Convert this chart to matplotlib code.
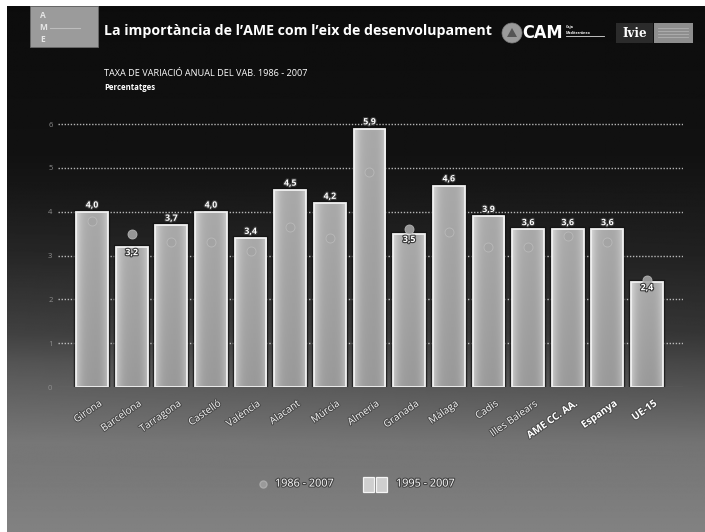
import numpy as np
import matplotlib
matplotlib.use("Agg")
import matplotlib.pyplot as plt
import matplotlib.patheffects as pe
import matplotlib.transforms as mtransforms
from matplotlib.patches import Rectangle, Circle, Polygon

plt.rcParams['font.family'] = ['Open Sans', 'DejaVu Sans']

# ---------------- data ----------------
categories = ["Girona", "Barcelona", "Tarragona", "Castelló", "València", "Alacant",
              "Múrcia", "Almeria", "Granada", "Màlaga", "Cadis", "Illes Balears",
              "AME CC. AA.", "Espanya", "UE-15"]
bold_categories = ["AME CC. AA.", "Espanya", "UE-15"]
bars_1995_2007 = [4.0, 3.2, 3.7, 4.0, 3.4, 4.5, 4.2, 5.9, 3.5, 4.6, 3.9, 3.6, 3.6, 3.6, 2.4]
dots_1986_2007 = [3.8, 3.5, 3.3, 3.3, 3.1, 3.65, 3.4, 4.9, 3.6, 3.55, 3.2, 3.2, 3.45, 3.3, 2.45]
y_ticks = [0, 1, 2, 3, 4, 5, 6]
legend_labels = ["1986 - 2007", "1995 - 2007"]
title = "La importància de l\u2019AME com l\u2019eix de desenvolupament"
subtitle = "TAXA DE VARIACIÓ ANUAL DEL VAB. 1986 - 2007"
unit_label = "Percentatges"

W, H = 705, 532
fig = plt.figure(figsize=(W / 100, H / 100), dpi=100, facecolor="white")

# ---------------- background / overlay axes (pixel coords) ----------------
bg = fig.add_axes([0, 0, 1, 1], zorder=0)
bg.set_xlim(0, W)
bg.set_ylim(H, 0)
bg.axis("off")

rows = np.arange(H)
prof = np.interp(rows, [0, 150, 250, 330, 390, 440, 532],
                 [0.05, 0.07, 0.13, 0.21, 0.34, 0.45, 0.51])
cols = np.linspace(0, 1, W)
img = prof[:, None] + 0.06 * (1 - cols[None, :]) * np.clip((rows[:, None] - 180) / 200, 0, 1) * \
      np.clip((470 - rows[:, None]) / 110, 0, 1)
img = np.clip(img, 0, 1)
bg.imshow(img, cmap="gray", vmin=0, vmax=1, extent=[7, W, H, 6], aspect="auto",
          interpolation="bilinear", zorder=0)
bg.set_xlim(0, W)
bg.set_ylim(H, 0)

# header: AME box
bg.add_patch(Rectangle((30, 6), 68, 41, facecolor="#9b9b9b", edgecolor="#6a6a6a", lw=0.6, zorder=2))
for ch, yy in zip(["A", "M", "E"], [15, 27, 39]):
    bg.text(43, yy, ch, color="#e6e6e6", fontsize=6, fontweight="bold",
            ha="center", va="center", zorder=3)
bg.plot([50, 80], [27.5, 27.5], color="#bdbdbd", lw=0.8, zorder=3)

bg.text(104, 31, title, color="white", fontsize=10.2, fontweight="bold",
        ha="left", va="center", zorder=3)

# CAM logo
bg.add_patch(Circle((512, 33), 10, facecolor="#9a9a9a", edgecolor="#777", lw=0.5, zorder=3))
bg.add_patch(Polygon([[507, 37], [512, 28], [517, 37]], closed=True,
                     facecolor="#555555", edgecolor="none", zorder=4))
bg.text(543, 33, "CAM", color="white", fontsize=13, fontweight="bold",
        family=["Liberation Sans Narrow", "DejaVu Sans"], fontstretch="condensed",
        ha="center", va="center", zorder=3)
bg.text(566, 27, "Caja", color="white", fontsize=2.6, fontweight="bold", ha="left", va="center", zorder=3)
bg.text(566, 32.5, "Mediterráneo", color="white", fontsize=2.6, fontweight="bold", ha="left", va="center", zorder=3)
bg.plot([566, 604], [36, 36], color="#dddddd", lw=0.6, zorder=3)

# Ivie logo
bg.add_patch(Rectangle((616, 23), 37, 20, facecolor="#2b2b2b", edgecolor="none", zorder=3))
bg.add_patch(Rectangle((654, 23), 39, 20, facecolor="#8e8e8e", edgecolor="none", zorder=3))
bg.text(634.5, 33.5, "Ivie", color="white", fontsize=8.5, fontweight="bold",
        family=["DejaVu Serif"], ha="center", va="center", zorder=4)
for yy in [28, 31, 34, 37]:
    bg.plot([658, 688], [yy, yy], color="#b0b0b0", lw=0.6, zorder=4)

bg.text(104, 73, subtitle, color="white", fontsize=6.6, ha="left", va="center", zorder=3)
bg.text(104, 87, unit_label, color="white", fontsize=5.6, fontweight="bold",
        ha="left", va="center", zorder=3)

# ---------------- chart axes ----------------
y0_px, ytop_val = 387, 6.15
px_per_unit = 43.8
ax_bottom = (H - y0_px) / H
ax_height = (ytop_val * px_per_unit) / H
ax = fig.add_axes([58 / W, ax_bottom, 625 / W, ax_height], zorder=2)
ax.set_facecolor("none")
xlim = (-0.858, 14.91)
ylim = (0, ytop_val)

n = len(categories)
x = np.arange(n)
bw = 0.8

for t in y_ticks[1:]:
    ax.axhline(t, color="#d2d2d2", lw=1.0, ls=(0, (1, 1.2)), zorder=1, alpha=0.85)
ax.axhline(0, color="#8c8c8c", lw=0.8, zorder=1)

grad_t = np.linspace(0, 1, 64)
grad = 0.66 + 0.16 * np.abs(2 * grad_t - 1) ** 3 - 0.05 * grad_t
grad = np.tile(grad, (32, 1))
vshade = np.linspace(0.03, -0.03, 32)[:, None]
grad = np.clip(grad + vshade, 0, 1)

for xi, v in zip(x, bars_1995_2007):
    ax.add_patch(Rectangle((xi - bw / 2, 0), bw, v, facecolor="none",
                           edgecolor="#111111", lw=3.2, alpha=0.7, zorder=2))
    rect = Rectangle((xi - bw / 2, 0), bw, v, facecolor="none", edgecolor="none", zorder=3)
    ax.add_patch(rect)
    im = ax.imshow(grad, cmap="gray", vmin=0, vmax=1, aspect="auto",
                   extent=[xi - bw / 2, xi + bw / 2, 0, v], origin="upper",
                   interpolation="bilinear", zorder=3)
    im.set_clip_path(rect)
    ax.add_patch(Rectangle((xi - bw / 2, 0), bw, v, facecolor="none",
                           edgecolor="#f2f2f2", lw=1.3, zorder=4))

ax.plot(x, dots_1986_2007, "o", ms=6.5, color="#a4a4a4", mec="#bcbcbc", mew=0.6,
        alpha=0.9, zorder=5, ls="none")

shadow = [pe.withStroke(linewidth=1.6, foreground="#3a3a3a")]
for xi, v, d in zip(x, bars_1995_2007, dots_1986_2007):
    lab = f"{v:.1f}".replace(".", ",")
    if d > v:
        ax.text(xi, v - 0.03, lab, color="white", fontsize=6.3, fontweight="bold",
                ha="center", va="top", zorder=6, path_effects=shadow)
    else:
        ax.text(xi, v + 0.05, lab, color="white", fontsize=6.3, fontweight="bold",
                ha="center", va="bottom", zorder=6, path_effects=shadow)

ax.set_xlim(*xlim)
ax.set_ylim(*ylim)
ax.set_yticks(y_ticks)
ax.set_yticklabels([str(t) for t in y_ticks])
ax.tick_params(axis="y", length=0, labelsize=5.5, labelcolor="#8e8e8e", pad=4)
ax.set_xticks(x)
ax.set_xticklabels(categories)
ax.tick_params(axis="x", length=0, pad=8)
offset = mtransforms.ScaledTranslation(6 / 100, 0, fig.dpi_scale_trans)
for lab in ax.get_xticklabels():
    lab.set_rotation(35)
    lab.set_rotation_mode("anchor")
    lab.set_ha("right")
    lab.set_va("top")
    lab.set_fontsize(7.2)
    lab.set_color("#f4f4f4")
    lab.set_path_effects([pe.withStroke(linewidth=1.4, foreground="#4a4a4a")])
    if lab.get_text() in bold_categories:
        lab.set_fontweight("bold")
        lab.set_color("white")
    lab.set_transform(lab.get_transform() + offset)
for s in ax.spines.values():
    s.set_visible(False)

# ---------------- legend (manual) ----------------
bg.plot([263], [484], "o", ms=5, color="#9a9a9a", mec="#aaaaaa", zorder=3)
bg.text(275, 484, legend_labels[0], color="white", fontsize=7.8, ha="left", va="center",
        zorder=3, path_effects=[pe.withStroke(linewidth=1.6, foreground="#444444")])
for x0 in [363, 376]:
    bg.add_patch(Rectangle((x0 - 0.5, 476.5), 12, 16, facecolor="#222222", alpha=0.5,
                           edgecolor="none", zorder=3))
    bg.add_patch(Rectangle((x0, 477), 11, 15, facecolor="#cfcfcf", edgecolor="#f5f5f5",
                           lw=0.9, zorder=4))
bg.text(396, 484, legend_labels[1], color="white", fontsize=7.8, ha="left", va="center",
        zorder=3, path_effects=[pe.withStroke(linewidth=1.6, foreground="#444444")])

fig.savefig("out.png", dpi=100, facecolor=fig.get_facecolor())
